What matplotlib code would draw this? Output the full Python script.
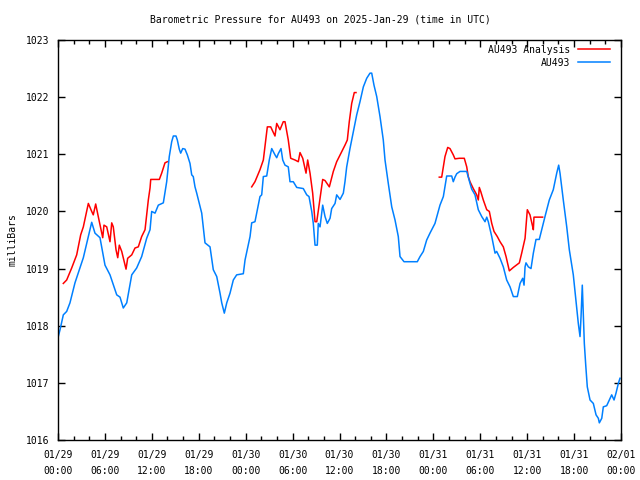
import matplotlib
matplotlib.use("Agg")
import matplotlib.pyplot as plt
from matplotlib.ticker import MultipleLocator

# hours since 2025-01-29 00:00 UTC, pressure in mb
obs_h = [0, 0.26, 0.68, 1.11, 1.53, 2.17, 2.81, 3.24, 3.88, 4.31, 4.73, 5.37, 6.01, 6.65,
         7.51, 7.93, 8.35, 8.79, 9.43, 10.06, 10.70, 11.34, 11.77, 11.98, 12.41, 12.83,
         13.47, 13.90, 14.23, 14.54, 14.75, 15.09, 15.26, 15.51, 15.69, 15.95, 16.24,
         16.54, 16.88, 17.10, 17.30, 17.52, 17.74, 18.38, 18.80, 19.44, 19.86, 20.30,
         20.72, 20.94, 21.27, 21.58, 22.00, 22.42, 22.85, 23.70, 23.92, 24.56, 24.77,
         25.19, 25.41, 25.83, 26.05, 26.26, 26.69, 27.02, 27.33, 27.75, 27.97, 28.17,
         28.52, 28.74, 29.03, 29.45, 29.67, 30.09, 30.53, 31.37, 31.81, 32.10, 32.45,
         32.65, 32.87, 33.16, 33.29, 33.51, 33.85, 34.15, 34.44, 34.79, 35.00, 35.43,
         35.64, 36.07, 36.49, 36.70, 36.92, 37.34, 37.77, 38.20, 38.62, 39.05, 39.48,
         39.90, 40.12, 40.41, 40.76, 41.18, 41.60, 41.82, 42.24, 42.68, 43.10, 43.52,
         43.74, 44.25, 45.95, 46.30, 46.72, 47.15, 47.57, 48.21, 48.85, 49.28, 49.71,
         50.35, 50.55, 50.77, 50.99, 51.41, 52.27, 52.69, 52.91, 53.33, 53.75, 54.19,
         54.61, 54.83, 55.03, 55.47, 55.89, 56.10, 56.53, 56.95, 57.38, 57.81, 58.23,
         58.74, 59.09, 59.43, 59.60, 59.73, 59.85, 60.15, 60.49, 60.79, 61.13, 61.55,
         61.86, 62.28, 62.83, 63.34, 63.78, 64.03, 64.20, 64.62, 65.06, 65.39, 65.90,
         66.25, 66.54, 66.76, 66.89, 67.05, 67.18, 67.31, 67.49, 67.69, 68.04, 68.46,
         68.81, 69.10, 69.23, 69.54, 69.74, 70.17, 70.60, 70.81, 71.11, 71.36, 71.66,
         71.87]
obs_p = [1017.79, 1017.93, 1018.19, 1018.25, 1018.40, 1018.75, 1019.01, 1019.19, 1019.56,
         1019.81, 1019.62, 1019.54, 1019.06, 1018.89, 1018.54, 1018.50, 1018.31, 1018.40,
         1018.89, 1019.01, 1019.21, 1019.53, 1019.68, 1020.00, 1019.97, 1020.11, 1020.15,
         1020.52, 1020.96, 1021.22, 1021.32, 1021.32, 1021.25, 1021.09, 1021.02, 1021.10,
         1021.09, 1020.99, 1020.84, 1020.64, 1020.61, 1020.43, 1020.32, 1019.97, 1019.45,
         1019.38, 1018.98, 1018.86, 1018.57, 1018.40, 1018.22, 1018.40, 1018.57, 1018.80,
         1018.89, 1018.91, 1019.15, 1019.56, 1019.80, 1019.82, 1019.97, 1020.26, 1020.29,
         1020.61, 1020.62, 1020.90, 1021.10, 1020.99, 1020.94, 1021.01, 1021.10, 1020.90,
         1020.81, 1020.78, 1020.52, 1020.52, 1020.42, 1020.40, 1020.29, 1020.26, 1020.00,
         1019.79, 1019.41, 1019.41, 1019.79, 1019.73, 1020.11, 1019.91, 1019.79, 1019.88,
         1020.05, 1020.14, 1020.29, 1020.21, 1020.32, 1020.52, 1020.78, 1021.10, 1021.40,
         1021.69, 1021.92, 1022.18, 1022.33, 1022.42, 1022.42, 1022.21, 1022.01, 1021.66,
         1021.25, 1020.90, 1020.49, 1020.08, 1019.85, 1019.56, 1019.21, 1019.12, 1019.12,
         1019.21, 1019.30, 1019.50, 1019.62, 1019.79, 1020.11, 1020.26, 1020.62, 1020.62,
         1020.52, 1020.60, 1020.66, 1020.70, 1020.70, 1020.49, 1020.39, 1020.29, 1020.03,
         1019.91, 1019.82, 1019.90, 1019.82, 1019.56, 1019.27, 1019.30, 1019.18, 1019.03,
         1018.80, 1018.68, 1018.51, 1018.51, 1018.74, 1018.83, 1018.71, 1019.03, 1019.10,
         1019.03, 1019.00, 1019.27, 1019.51, 1019.51, 1019.68, 1019.91, 1020.20, 1020.38,
         1020.67, 1020.81, 1020.67, 1020.20, 1019.73, 1019.33, 1018.89, 1018.42, 1018.04,
         1017.81, 1018.16, 1018.71, 1018.22, 1017.69, 1017.31, 1016.93, 1016.70, 1016.64,
         1016.44, 1016.38, 1016.30, 1016.38, 1016.58, 1016.60, 1016.73, 1016.79, 1016.70,
         1016.82, 1016.99, 1017.08]

# analysis comes in three separate pieces
ana1_h = [0.68, 1.11, 1.75, 2.39, 2.90, 3.24, 3.88, 4.31, 4.51, 4.82, 5.15, 5.72, 5.88,
          6.23, 6.65, 6.87, 7.07, 7.42, 7.64, 7.84, 8.15, 8.70, 8.91, 9.43, 9.85, 10.27,
          10.70, 11.13, 11.55, 11.77, 11.86, 12.96, 13.26, 13.68, 13.98]
ana1_p = [1018.74, 1018.80, 1019.01, 1019.24, 1019.59, 1019.73, 1020.14, 1020.00, 1019.94,
          1020.13, 1019.91, 1019.54, 1019.76, 1019.73, 1019.47, 1019.80, 1019.73, 1019.33,
          1019.19, 1019.41, 1019.30, 1018.99, 1019.18, 1019.24, 1019.36, 1019.38, 1019.56,
          1019.68, 1020.20, 1020.41, 1020.56, 1020.56, 1020.67, 1020.85, 1020.87]
ana2_h = [24.77, 25.19, 25.83, 26.26, 26.77, 27.20, 27.75, 27.97, 28.39, 28.81, 29.03,
          29.45, 29.76, 30.31, 30.73, 30.95, 31.30, 31.72, 31.93, 32.23, 32.57, 32.87,
          33.09, 33.42, 33.85, 34.15, 34.70, 35.21, 35.64, 36.19, 36.70, 37.00, 37.25,
          37.56, 37.89, 38.11]
ana2_p = [1020.43, 1020.52, 1020.73, 1020.90, 1021.48, 1021.48, 1021.32, 1021.54, 1021.43,
          1021.57, 1021.57, 1021.25, 1020.93, 1020.90, 1020.87, 1021.03, 1020.93, 1020.67,
          1020.90, 1020.67, 1020.32, 1019.82, 1019.82, 1020.14, 1020.56, 1020.54, 1020.43,
          1020.70, 1020.87, 1021.02, 1021.16, 1021.25, 1021.57, 1021.89, 1022.08, 1022.08]
ana3_h = [48.76, 49.07, 49.49, 49.84, 50.13, 50.55, 50.77, 51.32, 51.96, 52.27, 52.47,
          52.69, 53.11, 53.55, 53.75, 53.88, 54.06, 54.39, 54.83, 55.16, 55.47, 55.76,
          56.18, 56.53, 56.95, 57.30, 57.72, 58.23, 59.00, 59.30, 59.73, 60.02, 60.36,
          60.71, 60.79, 60.87, 61.98]
ana3_p = [1020.60, 1020.60, 1020.96, 1021.12, 1021.10, 1020.99, 1020.92, 1020.93, 1020.93,
          1020.78, 1020.61, 1020.52, 1020.40, 1020.29, 1020.20, 1020.42, 1020.35, 1020.20,
          1020.03, 1020.00, 1019.79, 1019.65, 1019.56, 1019.47, 1019.38, 1019.21, 1018.96,
          1019.02, 1019.10, 1019.27, 1019.53, 1020.03, 1019.94, 1019.73, 1019.68, 1019.90,
          1019.90]

tick_hours = [0, 6, 12, 18, 24, 30, 36, 42, 48, 54, 60, 66, 72]
tick_labels = ["01/29\n00:00", "01/29\n06:00", "01/29\n12:00", "01/29\n18:00",
               "01/30\n00:00", "01/30\n06:00", "01/30\n12:00", "01/30\n18:00",
               "01/31\n00:00", "01/31\n06:00", "01/31\n12:00", "01/31\n18:00",
               "02/01\n00:00"]

plt.rcParams['font.family'] = 'DejaVu Sans Mono'
plt.rcParams['font.size'] = 7

fig = plt.figure(figsize=(6.4, 4.8), dpi=100)
ax = fig.add_axes([58/640, 40/480, 563/640, 400/480])

red = '#ff0000'
blue = '#0080ff'
ax.plot(ana1_h, ana1_p, color=red, lw=1.1, label='AU493 Analysis')
ax.plot(ana2_h, ana2_p, color=red, lw=1.1)
ax.plot(ana3_h, ana3_p, color=red, lw=1.1)
ax.plot(obs_h, obs_p, color=blue, lw=1.1, label='AU493')

ax.set_xlim(0, 72)
ax.set_ylim(1016, 1023)
ax.set_xticks(tick_hours)
ax.set_xticklabels(tick_labels, linespacing=1.75)
ax.xaxis.set_minor_locator(MultipleLocator(2))
ax.set_yticks(range(1016, 1024))
ax.tick_params(direction='in', which='major', length=5, width=1, top=True, right=True)
ax.tick_params(direction='in', which='minor', length=3, width=1, top=True, right=False)
ax.tick_params(axis='x', pad=7)
ax.tick_params(axis='y', pad=6)
for s in ax.spines.values():
    s.set_linewidth(1)

ax.set_ylabel('milliBars', labelpad=6)
fig.text(0.5, 1 - 19/480, 'Barometric Pressure for AU493 on 2025-Jan-29 (time in UTC)',
         ha='center', va='center')

ax.legend(loc='upper right', bbox_to_anchor=(0.9876, 0.9975), frameon=False,
          markerfirst=False, handlelength=3.3, borderaxespad=0, labelspacing=0.3,
          handletextpad=0.8)

fig.savefig('out.png', dpi=100)
